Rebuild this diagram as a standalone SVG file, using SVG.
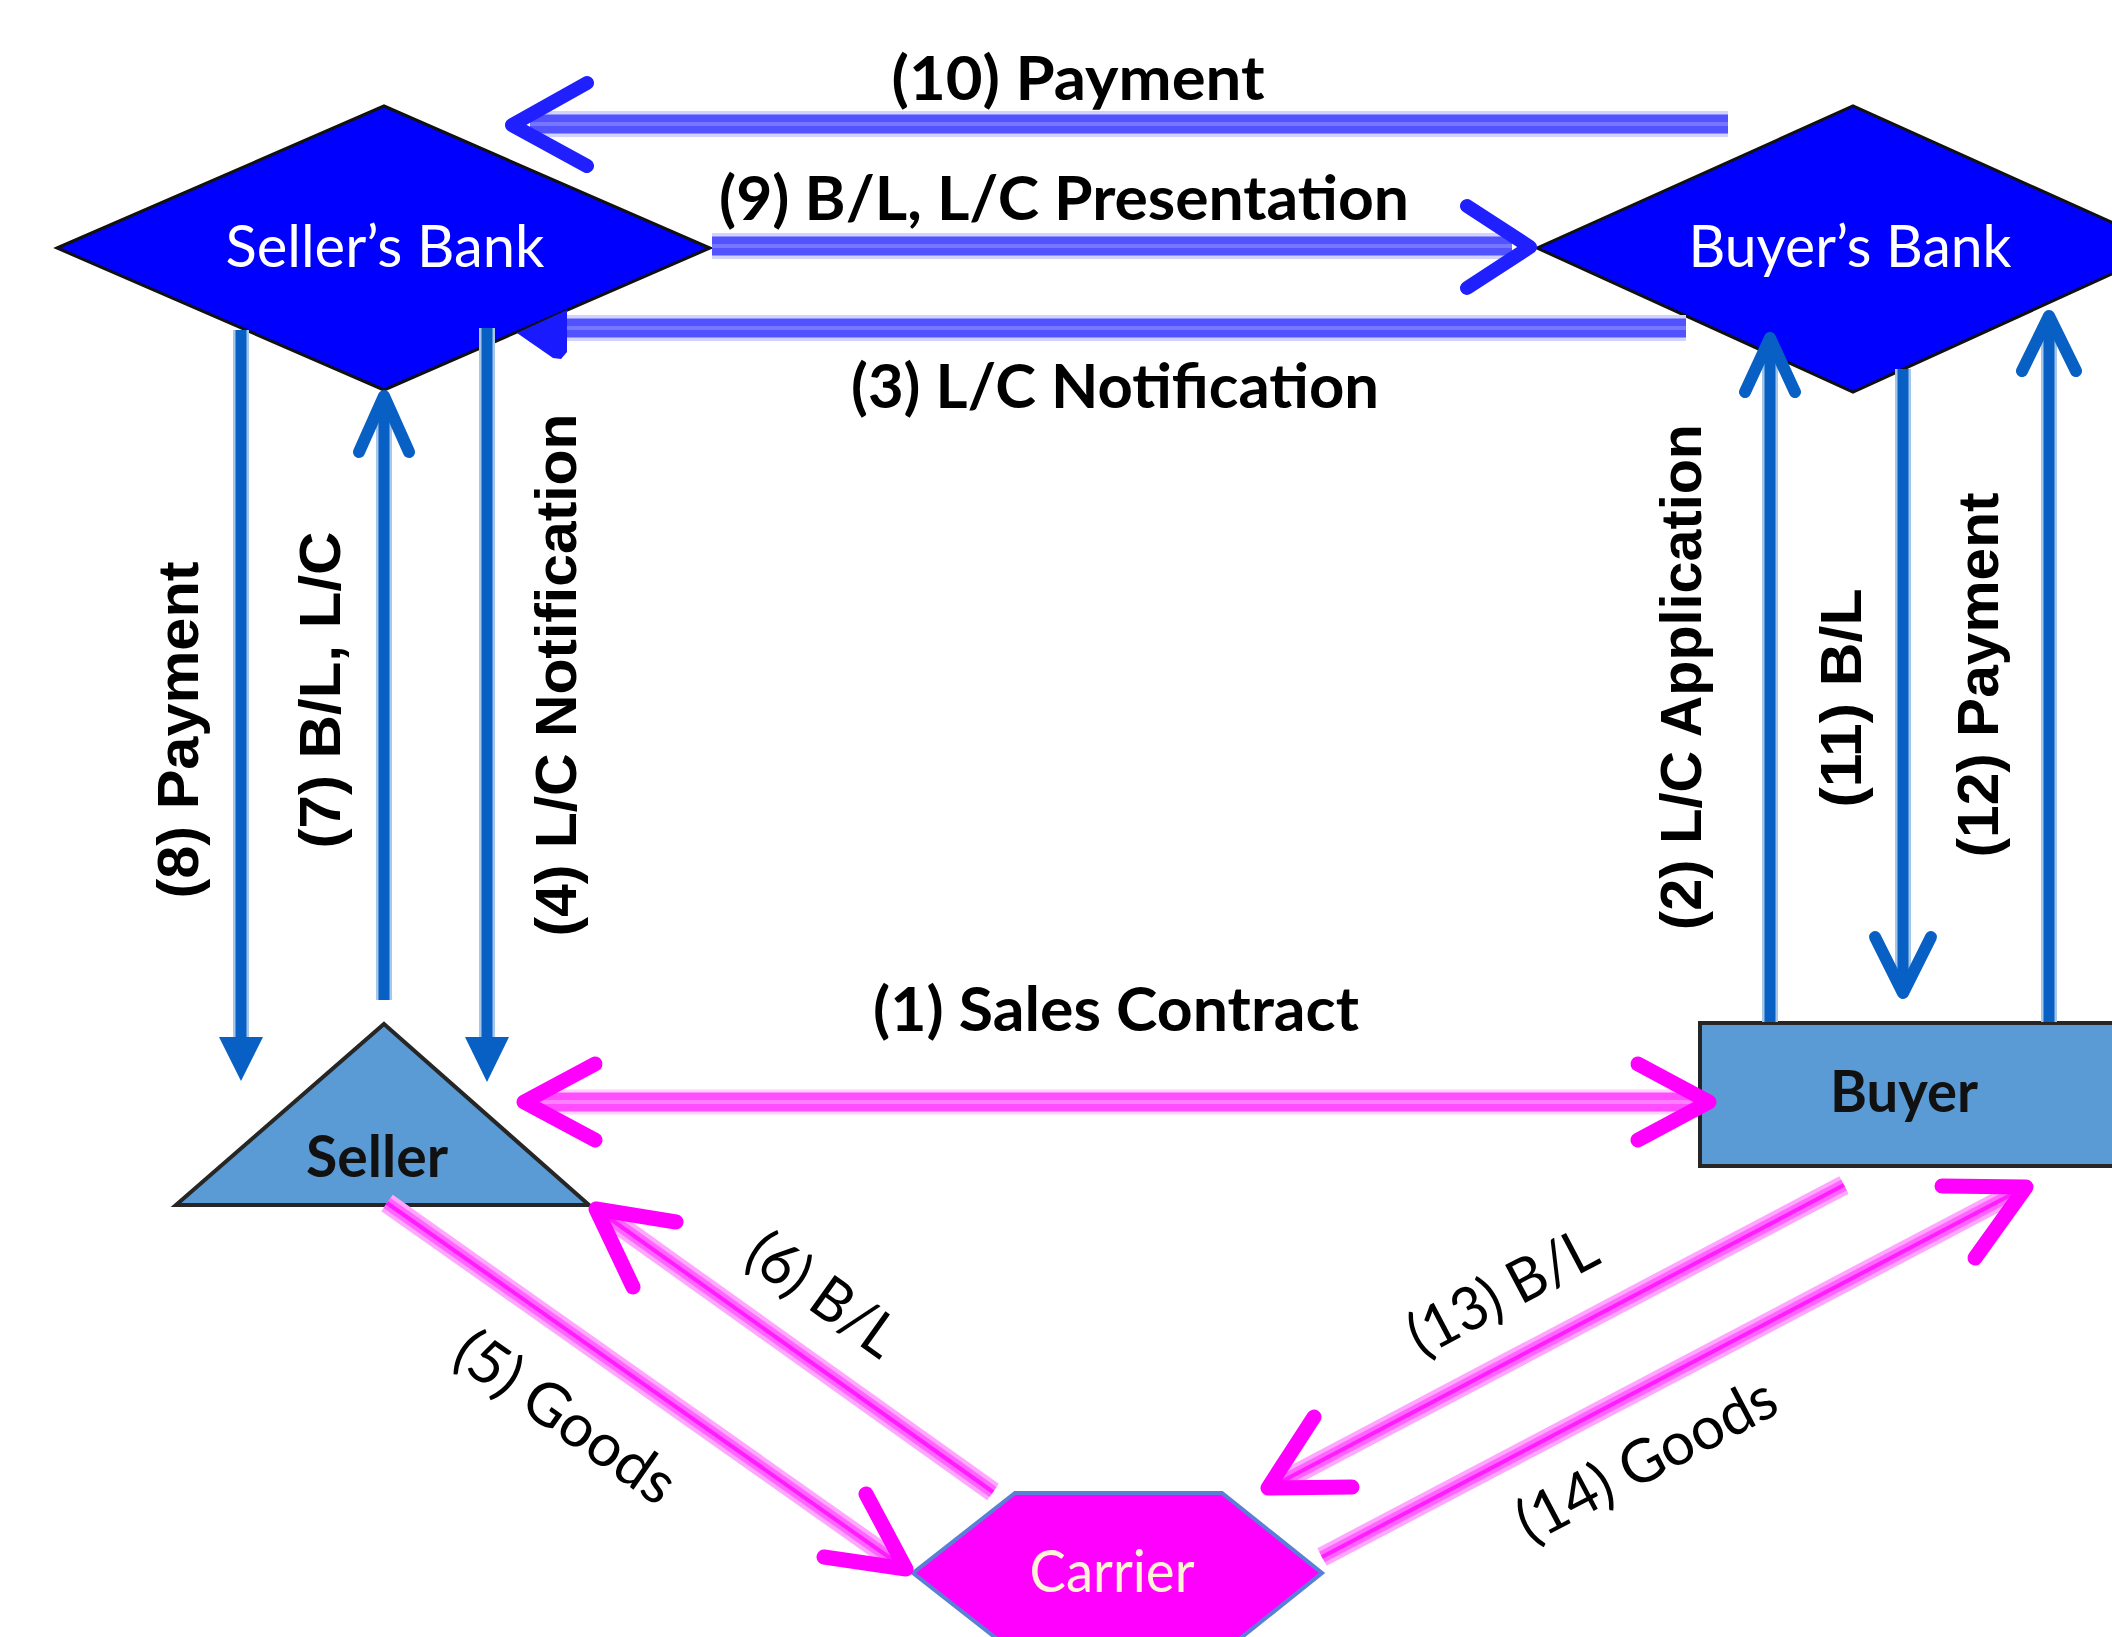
<svg xmlns="http://www.w3.org/2000/svg" width="2112" height="1637" viewBox="0 0 2112 1637">
<defs>
<style>
.bank{fill:#0000ff;stroke:#111;stroke-width:3;stroke-linejoin:miter}
.party{fill:#5b9bd5;stroke:#262626;stroke-width:4}
.carrier{fill:#ff00ff;stroke:#5b7fd6;stroke-width:4}
.nl{font-family:Lato,"Liberation Sans",sans-serif;font-size:58px;text-anchor:middle}
.nlw{fill:#ffffff}
.nlb{fill:#111;font-weight:bold}
.hl{font-family:Lato,"Liberation Sans",sans-serif;font-weight:bold;font-size:62px;fill:#000;text-anchor:middle}
.vl{font-family:"Liberation Sans",Arial,sans-serif;font-weight:bold;font-size:58px;fill:#000;text-anchor:middle}
.dl{font-family:Lato,"Liberation Sans",sans-serif;font-size:60px;fill:#000;text-anchor:middle}
.bv-o{stroke:#d2d2ff;stroke-width:26;fill:none}
.bv-m{stroke:#5252ff;stroke-width:19;fill:none}
.bv-c{stroke:#7676ff;stroke-width:4;fill:none}
.bv-h{stroke:#2020ff;stroke-width:14;fill:none;stroke-linecap:round;stroke-linejoin:round}
.sb-o{stroke:#a6c6ea;stroke-width:16;fill:none}
.sb-m{stroke:#0860c4;stroke-width:11;fill:none}
.sb-h{stroke:#0860c4;stroke-width:12;fill:none;stroke-linecap:round;stroke-linejoin:round}
.sb-f{fill:#0860c4}
.mg-o{stroke:#ffd0ff;stroke-width:25;fill:none}
.mg-m{stroke:#ff4dff;stroke-width:19;fill:none}
.mg-c{stroke:#ff80ff;stroke-width:4;fill:none}
.md-o{stroke:#ffa6ff;stroke-width:20;fill:none}
.md-m{stroke:#ff66ff;stroke-width:12;fill:none}
.md-c{stroke:#ff1cff;stroke-width:4;fill:none}
.mg-h{stroke:#ff00ff;stroke-width:15;fill:none;stroke-linecap:round;stroke-linejoin:round}
</style>
</defs>
<rect x="0" y="0" width="2112" height="1637" fill="#ffffff"/>

<g id="nodes">
  <g id="sellers-bank">
    <polygon class="bank" points="57,248 384,106 710,248 384,390"/>
    <text class="nl nlw" x="385" y="267" textLength="319" lengthAdjust="spacingAndGlyphs">Seller’s Bank</text>
  </g>
  <g id="buyers-bank">
    <polygon class="bank" points="1537,248 1853,106 2169,248 1853,392"/>
    <text class="nl nlw" x="1850" y="267" textLength="323" lengthAdjust="spacingAndGlyphs">Buyer’s Bank</text>
  </g>
  <g id="seller">
    <polygon class="party" points="384,1024 589,1205 176,1205"/>
    <text class="nl nlb" x="377" y="1177" textLength="142" lengthAdjust="spacingAndGlyphs">Seller</text>
  </g>
  <g id="buyer">
    <rect class="party" x="1700" y="1023" width="460" height="143"/>
    <text class="nl nlb" x="1904" y="1112" textLength="148" lengthAdjust="spacingAndGlyphs">Buyer</text>
  </g>
  <g id="carrier">
    <polygon class="carrier" points="1015,1493 1222,1493 1322,1573 1222,1653 1015,1653 913,1573"/>
    <text class="nl" x="1112" y="1592" fill="#fff2d6" textLength="165" lengthAdjust="spacingAndGlyphs">Carrier</text>
  </g>
</g>

<g id="connectors">
  <g id="c10-payment">
    <line class="bv-o" x1="1728" y1="124" x2="530" y2="124"/>
    <line class="bv-m" x1="1728" y1="124" x2="530" y2="124"/>
    <line class="bv-c" x1="1728" y1="124" x2="530" y2="124"/>
    <polyline class="bv-h" points="587,83 512,125 587,166"/>
    <text class="hl" x="1078" y="100" textLength="373" lengthAdjust="spacingAndGlyphs">(10) Payment</text>
  </g>
  <g id="c9-presentation">
    <line class="bv-o" x1="712" y1="246" x2="1512" y2="246"/>
    <line class="bv-m" x1="712" y1="246" x2="1512" y2="246"/>
    <line class="bv-c" x1="712" y1="246" x2="1512" y2="246"/>
    <polyline class="bv-h" points="1467,206 1530,247 1467,288"/>
    <text class="hl" x="1064" y="220" textLength="690" lengthAdjust="spacingAndGlyphs">(9) B/L, L/C Presentation</text>
  </g>
  <g id="c3-notification">
    <line class="bv-o" x1="1686" y1="328" x2="567" y2="328"/>
    <line class="bv-m" x1="1686" y1="328" x2="567" y2="328"/>
    <line class="bv-c" x1="1686" y1="328" x2="567" y2="328"/>
    <polygon fill="#1a1aff" points="567,310 567,352 561,359 553,358 517,333"/>
    <text class="hl" x="1115" y="408" textLength="528" lengthAdjust="spacingAndGlyphs">(3) L/C Notification</text>
  </g>
  <g id="c8-payment">
    <line class="sb-o" x1="241" y1="330" x2="241" y2="1040"/>
    <line class="sb-m" x1="241" y1="330" x2="241" y2="1040"/>
    <polygon class="sb-f" points="219,1037 263,1037 241,1081"/>
    <text class="vl" transform="translate(198,730) rotate(-90)" textLength="337" lengthAdjust="spacingAndGlyphs">(8) Payment</text>
  </g>
  <g id="c7-bl-lc">
    <line class="sb-o" x1="384" y1="1000" x2="384" y2="400"/>
    <line class="sb-m" x1="384" y1="1000" x2="384" y2="400"/>
    <polyline class="sb-h" points="359,452 384,396 409,452"/>
    <text class="vl" transform="translate(340,690) rotate(-90)" textLength="317" lengthAdjust="spacingAndGlyphs">(7) B/L, L/C</text>
  </g>
  <g id="c4-notification">
    <line class="sb-o" x1="487" y1="328" x2="487" y2="1040"/>
    <line class="sb-m" x1="487" y1="328" x2="487" y2="1040"/>
    <polygon class="sb-f" points="465,1037 509,1037 487,1082"/>
    <text class="vl" transform="translate(576,675) rotate(-90)" textLength="523" lengthAdjust="spacingAndGlyphs">(4) L/C Notification</text>
  </g>
  <g id="c2-application">
    <line class="sb-o" x1="1770" y1="1022" x2="1770" y2="342"/>
    <line class="sb-m" x1="1770" y1="1022" x2="1770" y2="342"/>
    <polyline class="sb-h" points="1745,392 1770,338 1795,392"/>
    <text class="vl" transform="translate(1701,677) rotate(-90)" textLength="506" lengthAdjust="spacingAndGlyphs">(2) L/C Application</text>
  </g>
  <g id="c11-bl">
    <line class="sb-o" x1="1903" y1="369" x2="1903" y2="988"/>
    <line class="sb-m" x1="1903" y1="369" x2="1903" y2="988"/>
    <polyline class="sb-h" points="1875,937 1903,993 1931,937"/>
    <text class="vl" transform="translate(1861,698) rotate(-90)" textLength="219" lengthAdjust="spacingAndGlyphs">(11) B/L</text>
  </g>
  <g id="c12-payment">
    <line class="sb-o" x1="2049" y1="1022" x2="2049" y2="320"/>
    <line class="sb-m" x1="2049" y1="1022" x2="2049" y2="320"/>
    <polyline class="sb-h" points="2022,371 2049,316 2076,371"/>
    <text class="vl" transform="translate(1998,675) rotate(-90)" textLength="365" lengthAdjust="spacingAndGlyphs">(12) Payment</text>
  </g>
  <g id="c1-sales-contract">
    <line class="mg-o" x1="540" y1="1102" x2="1695" y2="1102"/>
    <line class="mg-m" x1="540" y1="1102" x2="1695" y2="1102"/>
    <line class="mg-c" x1="540" y1="1102" x2="1695" y2="1102"/>
    <polyline class="mg-h" points="595,1064 524,1102 595,1140"/>
    <polyline class="mg-h" points="1638,1064 1709,1102 1638,1140"/>
    <text class="hl" x="1116" y="1031" textLength="486" lengthAdjust="spacingAndGlyphs">(1) Sales Contract</text>
  </g>
  <g id="c5-goods">
    <line class="md-o" x1="387" y1="1203" x2="900" y2="1565"/>
    <line class="md-m" x1="387" y1="1203" x2="900" y2="1565"/>
    <line class="md-c" x1="387" y1="1203" x2="900" y2="1565"/>
    <polyline class="mg-h" points="866,1494 906,1569 824,1557"/>
    <text class="dl" transform="translate(554,1434) rotate(35)" textLength="255" lengthAdjust="spacingAndGlyphs">(5) Goods</text>
  </g>
  <g id="c6-bl">
    <line class="md-o" x1="993" y1="1492" x2="602" y2="1213"/>
    <line class="md-m" x1="993" y1="1492" x2="602" y2="1213"/>
    <line class="md-c" x1="993" y1="1492" x2="602" y2="1213"/>
    <polyline class="mg-h" points="676,1222 596,1209 633,1287"/>
    <text class="dl" transform="translate(811,1311) rotate(35.5)" textLength="170" lengthAdjust="spacingAndGlyphs">(6) B/L</text>
  </g>
  <g id="c13-bl">
    <line class="md-o" x1="1844" y1="1185" x2="1275" y2="1485"/>
    <line class="md-m" x1="1844" y1="1185" x2="1275" y2="1485"/>
    <line class="md-c" x1="1844" y1="1185" x2="1275" y2="1485"/>
    <polyline class="mg-h" points="1314,1417 1268,1488 1352,1487"/>
    <text class="dl" transform="translate(1512,1310) rotate(-27.8)" textLength="205" lengthAdjust="spacingAndGlyphs">(13) B/L</text>
  </g>
  <g id="c14-goods">
    <line class="md-o" x1="1322" y1="1557" x2="2020" y2="1190"/>
    <line class="md-m" x1="1322" y1="1557" x2="2020" y2="1190"/>
    <line class="md-c" x1="1322" y1="1557" x2="2020" y2="1190"/>
    <polyline class="mg-h" points="1942,1186 2026,1187 1975,1258"/>
    <text class="dl" transform="translate(1656,1478) rotate(-27.8)" textLength="285" lengthAdjust="spacingAndGlyphs">(14) Goods</text>
  </g>
</g>
</svg>
